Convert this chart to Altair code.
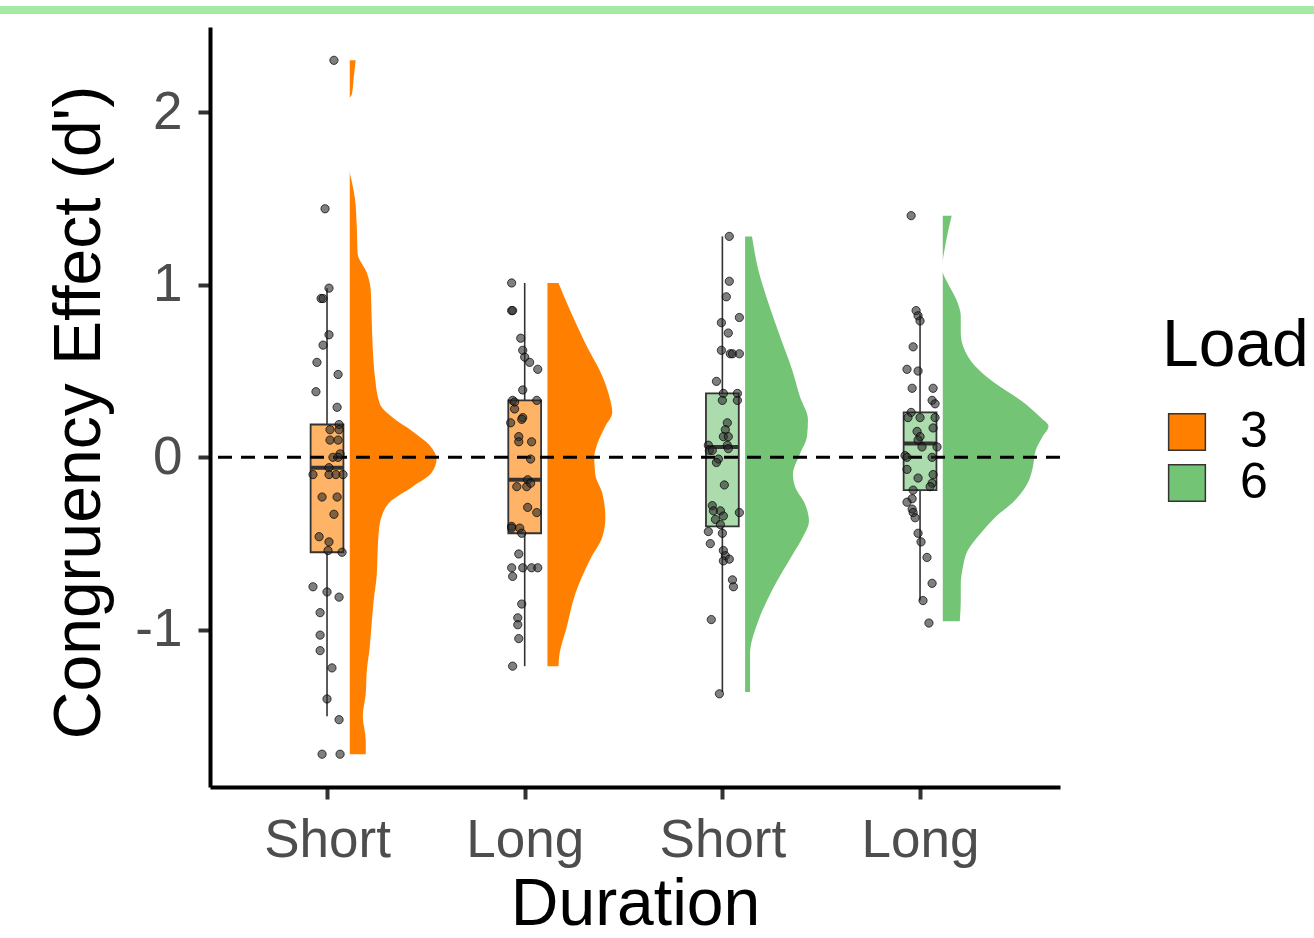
import json
import altair as alt
import pandas as pd

FONT = "Liberation Sans"

# ---------------- data ----------------
positions = [1, 2, 3, 4]
tick_labels = ["Short", "Long", "Short", "Long"]
loads = ["3", "3", "6", "6"]
load_levels = ["3", "6"]
load_colors = ["#FF8000", "#74C476"]

# jittered raw points: value and horizontal jitter (x-axis units)
short3_vals = [2.30, 1.44, 0.98, 0.92, 0.92, 0.71, 0.65, 0.55, 0.48, 0.38, 0.29, 0.19, 0.16, 0.16,
               0.10, 0.10, 0.02, 0.00, 0.00, -0.06, -0.10, -0.10, -0.10, -0.10, -0.23, -0.23, -0.33,
               -0.46, -0.49, -0.54, -0.55, -0.75, -0.78, -0.81, -0.90, -1.03, -1.12, -1.22, -1.40,
               -1.52, -1.72, -1.72]
short3_jit = [0.035, -0.010, 0.010, -0.030, -0.020, 0.010, -0.020, -0.051, 0.056, -0.056, 0.051,
              0.061, 0.015, 0.061, 0.015, 0.056, 0.066, 0.056, 0.030, 0.010, -0.071, 0.010, 0.045,
              0.081, -0.025, 0.051, 0.035, -0.040, 0.010, 0.005, 0.076, -0.071, 0.0, 0.061, -0.035,
              -0.035, -0.035, 0.025, 0.0, 0.061, -0.025, 0.066]

long3_vals = [1.01, 0.85, 0.85, 0.69, 0.62, 0.58, 0.55, 0.51, 0.39, 0.33, 0.32, 0.33, 0.28, 0.23,
              0.22, 0.20, 0.12, 0.09, 0.09, -0.01, -0.13, -0.17, -0.17, -0.15, -0.29, -0.32, -0.40,
              -0.41, -0.41, -0.44, -0.56, -0.64, -0.64, -0.64, -0.64, -0.69, -0.85, -0.93, -0.97,
              -1.05, -1.21]
long3_jit = [-0.066, -0.066, -0.061, -0.020, -0.010, 0.0, 0.025, 0.066, -0.010, -0.061, -0.051,
             0.061, -0.051, -0.010, -0.015, -0.071, -0.030, -0.030, 0.035, 0.030, 0.015, -0.040,
             0.010, 0.030, 0.015, 0.061, -0.066, -0.025, -0.066, -0.015, -0.030, -0.066, -0.010,
             0.035, 0.066, -0.061, -0.015, -0.035, -0.035, -0.030, -0.061]

short6_vals = [1.28, 1.02, 0.93, 0.81, 0.78, 0.72, 0.62, 0.60, 0.60, 0.60, 0.44, 0.37, 0.37, 0.33,
               0.33, 0.20, 0.16, 0.12, 0.12, 0.07, 0.07, 0.05, 0.04, 0.04, -0.01, -0.03, -0.16,
               -0.28, -0.31, -0.31, -0.34, -0.36, -0.32, -0.39, -0.43, -0.44, -0.50, -0.54, -0.57,
               -0.60, -0.59, -0.71, -0.75, -0.94, -1.37]
short6_jit = [0.035, 0.035, 0.020, 0.086, -0.005, 0.030, -0.005, 0.040, 0.051, 0.086, -0.030,
              0.005, 0.076, 0.0, 0.076, 0.025, 0.015, 0.005, 0.030, -0.071, 0.025, 0.030, -0.066,
              -0.051, -0.020, -0.030, 0.010, -0.051, -0.045, -0.010, 0.005, -0.035, 0.086, -0.010,
              -0.071, 0.0, -0.061, 0.005, 0.015, 0.005, 0.035, 0.051, 0.056, -0.056, -0.015]

long6_vals = [1.40, 0.85, 0.82, 0.79, 0.64, 0.51, 0.50, 0.40, 0.40, 0.33, 0.31, 0.26, 0.23, 0.23,
              0.23, 0.17, 0.15, 0.12, 0.10, 0.06, 0.06, 0.01, 0.00, 0.00, -0.07, -0.12, -0.10,
              -0.15, -0.17, -0.19, -0.24, -0.26, -0.30, -0.32, -0.35, -0.44, -0.49, -0.58, -0.73,
              -0.83, -0.96]
long6_jit = [-0.045, -0.020, -0.010, 0.0, -0.035, -0.066, -0.010, -0.040, 0.066, 0.061, 0.076,
             -0.045, -0.061, 0.0, 0.076, 0.066, -0.015, 0.0, -0.010, 0.010, 0.086, -0.076, -0.066,
             0.061, -0.066, -0.010, 0.066, 0.061, 0.051, -0.035, -0.040, -0.066, -0.040, -0.035,
             -0.025, -0.010, 0.005, 0.035, 0.061, 0.015, 0.045]

# boxplot statistics
box_q1 = [-0.55, -0.44, -0.40, -0.19]
box_med = [-0.06, -0.13, 0.06, 0.08]
box_q3 = [0.19, 0.33, 0.37, 0.26]
whisk_lo = [-1.50, -1.21, -1.36, -0.83]
whisk_hi = [0.98, 1.01, 1.28, 0.83]

# half-violin profiles: value and density half-width (x-axis units)
short3_vy = [2.30, 2.20, 2.10, 2.08, 1.66, 1.60, 1.51, 1.35, 1.18, 1.07, 0.97, 0.80, 0.64, 0.48,
             0.31, 0.23, 0.15, 0.07, -0.01, -0.09, -0.17, -0.26, -0.34, -0.44, -0.55, -0.69,
             -0.83, -0.96, -1.10, -1.24, -1.37, -1.50, -1.64, -1.72]
short3_vw = [0.030, 0.020, 0.010, 0.0, 0.0, 0.010, 0.025, 0.035, 0.040, 0.086, 0.106, 0.111,
             0.116, 0.126, 0.152, 0.217, 0.318, 0.404, 0.439, 0.414, 0.318, 0.202, 0.162, 0.146,
             0.141, 0.136, 0.121, 0.111, 0.101, 0.086, 0.081, 0.066, 0.081, 0.081]
long3_vy = [1.01, 0.86, 0.66, 0.47, 0.33, 0.26, 0.18, 0.08, 0.00, -0.10, -0.21, -0.35, -0.46,
            -0.60, -0.79, -0.99, -1.14, -1.21]
long3_vw = [0.056, 0.111, 0.192, 0.278, 0.318, 0.328, 0.293, 0.253, 0.237, 0.242, 0.278, 0.293,
            0.278, 0.212, 0.141, 0.096, 0.061, 0.056]
short6_vy = [1.28, 1.09, 0.90, 0.70, 0.51, 0.35, 0.22, 0.12, 0.02, -0.10, -0.17, -0.27, -0.37,
             -0.46, -0.56, -0.76, -0.95, -1.14, -1.36]
short6_vw = [0.035, 0.066, 0.116, 0.177, 0.237, 0.278, 0.318, 0.313, 0.278, 0.242, 0.253, 0.303,
             0.323, 0.293, 0.242, 0.141, 0.066, 0.025, 0.025]
long6_vy = [1.40, 1.30, 1.21, 1.13, 1.08, 1.01, 0.92, 0.82, 0.72, 0.62, 0.53, 0.43, 0.33, 0.23,
            0.18, 0.12, 0.04, -0.06, -0.15, -0.25, -0.35, -0.44, -0.54, -0.64, -0.74, -0.83, -0.95]
long6_vw = [0.045, 0.025, 0.010, 0.0, 0.0, 0.025, 0.066, 0.091, 0.091, 0.111, 0.162, 0.263,
            0.394, 0.495, 0.535, 0.505, 0.470, 0.455, 0.429, 0.364, 0.263, 0.192, 0.126, 0.101,
            0.091, 0.091, 0.086]

y_ticks = [-1, 0, 1, 2]

# ---------------- tables ----------------
pt_sets = [(short3_vals, short3_jit), (long3_vals, long3_jit),
           (short6_vals, short6_jit), (long6_vals, long6_jit)]
vio_sets = [(short3_vy, short3_vw), (long3_vy, long3_vw),
            (short6_vy, short6_vw), (long6_vy, long6_vw)]

pts_rows, vio_rows = [], []
for i, (vals, jits) in enumerate(pt_sets):
    for v, j in zip(vals, jits):
        pts_rows.append({"pos": positions[i], "load": loads[i], "value": v, "jit": j})
for i, (vy, vw) in enumerate(vio_sets):
    for y, w in zip(vy, vw):
        vio_rows.append({"pos": positions[i], "load": loads[i], "y": y, "w": w})
box_rows = [{"pos": positions[i], "load": loads[i], "q1": box_q1[i], "med": box_med[i],
             "q3": box_q3[i], "lo": whisk_lo[i], "hi": whisk_hi[i]} for i in range(4)]

pts_df = pd.DataFrame(pts_rows)
vio_df = pd.DataFrame(vio_rows)
box_df = pd.DataFrame(box_rows)

# ---------------- scales / axes ----------------
x_scale = alt.Scale(domain=[0.408, 4.708], nice=False, zero=False)
y_scale = alt.Scale(domain=[-1.91, 2.493], nice=False, zero=False)
color_scale = alt.Scale(domain=load_levels, range=load_colors)

label_expr = json.dumps(tick_labels) + "[datum.value - 1]"
x_axis = alt.Axis(values=positions, labelExpr=label_expr, title="Duration",
                  labelPadding=15, titleX=425, titleY=137, titleBaseline="alphabetic",
                  titleAlign="center")
y_axis = alt.Axis(values=y_ticks, labelExpr="'' + datum.value", title="Congruency Effect (d')",
                  labelPadding=16, titleX=-111, titleY=385, titleAngle=270, titleAlign="center",
                  titleBaseline="alphabetic")


def X(field):
    return alt.X(field, type="quantitative", scale=x_scale, axis=x_axis)


def Y(field):
    return alt.Y(field, type="quantitative", scale=y_scale, axis=y_axis)


legend = alt.Legend(title="Load", orient="none", legendX=952, legendY=287,
                    titleFont=FONT, titleFontSize=66, titleFontWeight="normal",
                    titleColor="black", titlePadding=27,
                    labelFont=FONT, labelFontSize=50, labelColor="black", labelOffset=28,
                    symbolType="square", symbolSize=1350, symbolStrokeColor="#333333",
                    symbolStrokeWidth=1.5, symbolOpacity=1, rowPadding=1, padding=0)

# top decorative band (part of the reference screenshot)
band = alt.Chart(pd.DataFrame({"k": [0]})).mark_rule(color="#A4E9A4", strokeWidth=8).encode(
    x=alt.value(-210), x2=alt.value(1104), y=alt.value(-17))

violin = alt.Chart(vio_df).transform_calculate(
    x0="datum.pos + 0.115", x1="datum.pos + 0.115 + datum.w"
).mark_area(orient="horizontal", opacity=1, interpolate="monotone").encode(
    y=Y("y"), x=X("x0"), x2="x1:Q",
    fill=alt.Fill("load:N", scale=color_scale, legend=legend),
    detail="pos:N")

whisk_low = alt.Chart(box_df).mark_rule(color="#333333", strokeWidth=1.6).encode(
    x=X("pos"), y=Y("lo"), y2="q1:Q")
whisk_high = alt.Chart(box_df).mark_rule(color="#333333", strokeWidth=1.6).encode(
    x=X("pos"), y=Y("q3"), y2="hi:Q")

box = alt.Chart(box_df).transform_calculate(
    bx0="datum.pos - 0.083", bx1="datum.pos + 0.083"
).mark_rect(fillOpacity=0.6, stroke="#333333", strokeWidth=1.8).encode(
    x=X("bx0"), x2="bx1:Q", y=Y("q1"), y2="q3:Q",
    fill=alt.Fill("load:N", scale=color_scale, legend=None))

median = alt.Chart(box_df).transform_calculate(
    bx0="datum.pos - 0.083", bx1="datum.pos + 0.083"
).mark_rule(color="#333333", strokeWidth=4).encode(
    x=X("bx0"), x2="bx1:Q", y=Y("med"))

zero_line = alt.Chart(pd.DataFrame({"k": [0]})).mark_rule(
    color="black", strokeWidth=3, strokeDash=[14, 9]).encode(y=alt.datum(0))

points = alt.Chart(pts_df).transform_calculate(xj="datum.pos + datum.jit").mark_circle(
    size=68, color="#2a2a2a", fillOpacity=0.6, stroke="#000000", strokeWidth=1,
    strokeOpacity=0.7).encode(x=X("xj"), y=Y("value"))

chart = alt.layer(band, violin, whisk_low, whisk_high, box, median, zero_line, points).properties(
    width=850, height=760,
    autosize=alt.AutoSizeParams(type="none"),
    padding={"left": 210, "top": 27, "right": 254, "bottom": 151},
    background="white",
).configure_view(stroke=None).configure_axis(
    grid=False, domainColor="black", domainWidth=4, tickColor="#333333", tickWidth=4,
    tickSize=12, labelFont=FONT, labelFontSize=53, labelColor="#4D4D4D",
    titleFont=FONT, titleFontSize=66, titleColor="black", titleFontWeight="normal")

chart.save("out.html", embed_options={"renderer": "svg", "actions": False})
